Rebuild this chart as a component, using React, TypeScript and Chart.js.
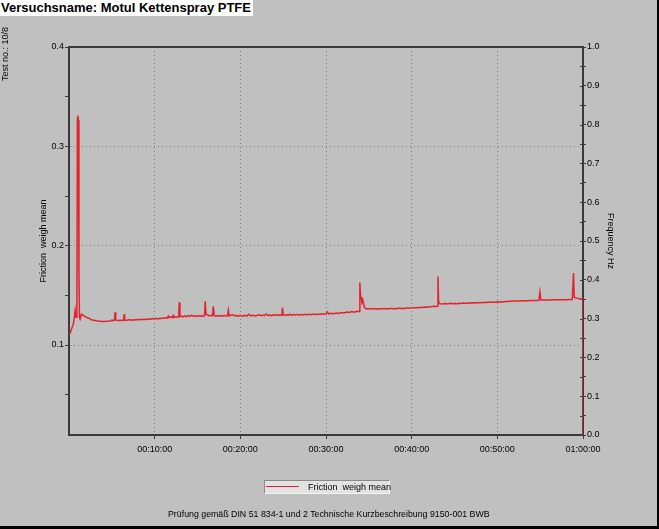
import React, { useEffect, useRef } from "react";
import { Chart, registerables } from "chart.js";

Chart.register(...registerables);

// ---- data (time in minutes, friction coefficient) ----
const timeMin = [
  0, 0.12, 0.3, 0.5, 0.62, 0.72, 0.82, 0.92, 0.98, 1.04,
  1.1, 1.16, 1.22, 1.3, 1.45, 1.6, 1.8, 2.0, 2.3, 2.6,
  2.9, 3.2, 3.6, 4.0, 4.4, 4.8, 5.0, 5.2, 5.3, 5.38,
  5.46, 5.7, 6.0, 6.3, 6.38, 6.43, 6.5, 6.8, 7.0, 7.2,
  7.4, 7.6, 7.8, 8.0, 8.2, 8.4, 8.6, 8.8, 9.0, 9.2,
  9.4, 9.6, 9.8, 10.0, 10.2, 10.4, 10.6, 10.8, 11.0, 11.2,
  11.4, 11.5, 11.6, 11.7, 11.8, 12.0, 12.1, 12.2, 12.3, 12.5,
  12.7, 12.8, 12.87, 12.95, 13.1, 13.3, 13.5, 13.7, 13.9, 14.1,
  14.3, 14.5, 14.7, 14.9, 15.1, 15.3, 15.5, 15.7, 15.82, 15.9,
  16.0, 16.2, 16.4, 16.6, 16.75, 16.84, 16.95, 17.1, 17.3, 17.5,
  17.7, 17.9, 18.1, 18.3, 18.5, 18.6, 18.7, 18.9, 19.1, 19.3,
  19.5, 19.7, 20.0, 20.3, 20.5, 20.8, 21.0, 21.2, 21.5, 21.8,
  22.0, 22.2, 22.4, 22.6, 22.8, 23.0, 23.2, 23.4, 23.6, 23.8,
  24.0, 24.2, 24.4, 24.6, 24.85, 24.92, 25.0, 25.2, 25.4, 25.6,
  25.8, 26.0, 26.2, 26.4, 26.6, 26.8, 27.0, 27.3, 27.5, 27.8,
  28.0, 28.3, 28.5, 28.8, 29.0, 29.3, 29.5, 29.8, 30.0, 30.2,
  30.3, 30.6, 30.9, 31.2, 31.5, 31.8, 32.1, 32.4, 32.7, 33.0,
  33.3, 33.6, 33.86, 33.95, 34.02, 34.1, 34.2, 34.3, 34.45, 34.6,
  34.8, 35.0, 35.3, 35.5, 35.8, 36.0, 36.3, 36.5, 36.8, 37.0,
  37.3, 37.5, 37.8, 38.0, 38.3, 38.5, 38.8, 39.0, 39.3, 39.5,
  39.8, 40.0, 40.3, 40.5, 40.8, 41.0, 41.3, 41.5, 41.8, 42.0,
  42.3, 42.5, 42.8, 42.98, 43.07, 43.15, 43.3, 43.6, 43.9, 44.2,
  44.5, 44.8, 45.0, 45.3, 45.5, 45.8, 46.0, 46.3, 46.5, 46.8,
  47.0, 47.3, 47.5, 47.8, 48.0, 48.3, 48.5, 48.8, 49.0, 49.3,
  49.5, 49.8, 50.0, 50.5, 51.0, 51.5, 52.0, 52.5, 53.0, 53.5,
  54.0, 54.5, 54.85, 54.97, 55.08, 55.5, 56.0, 56.5, 57.0, 57.5,
  58.0, 58.4, 58.75, 58.89, 58.98, 59.1, 59.3, 59.6, 59.9, 60.0,
  60.0,
];

const friction = [
  0.110, 0.112, 0.116, 0.121, 0.127, 0.135, 0.128, 0.131, 0.328, 0.331,
  0.326, 0.174, 0.128, 0.126, 0.131, 0.130, 0.129, 0.128, 0.127, 0.1255,
  0.125, 0.1245, 0.1238, 0.1236, 0.1240, 0.1242, 0.1250, 0.1245, 0.1252, 0.1330,
  0.1250, 0.1247, 0.1250, 0.1248, 0.1250, 0.1310, 0.1252, 0.1249, 0.1256, 0.1250,
  0.1255, 0.1250, 0.1257, 0.1252, 0.1258, 0.1254, 0.1260, 0.1255, 0.1262, 0.1257,
  0.1263, 0.1259, 0.1266, 0.1262, 0.1268, 0.1263, 0.1270, 0.1266, 0.1273, 0.1269,
  0.1276, 0.1272, 0.1292, 0.1274, 0.1279, 0.1285, 0.1276, 0.1298, 0.1279, 0.1284,
  0.1280, 0.1286, 0.1430, 0.1286, 0.1292, 0.1284, 0.1293, 0.1286, 0.1295, 0.1287,
  0.1300, 0.1288, 0.1294, 0.1287, 0.1296, 0.1289, 0.1295, 0.1290, 0.1294, 0.1440,
  0.1310, 0.1302, 0.1293, 0.1299, 0.1294, 0.1390, 0.1298, 0.1290, 0.1297, 0.1289,
  0.1296, 0.1290, 0.1298, 0.1291, 0.1294, 0.1350, 0.1295, 0.1300, 0.1306, 0.1292,
  0.1298, 0.1291, 0.1297, 0.1290, 0.1298, 0.1293, 0.1310, 0.1294, 0.1299, 0.1293,
  0.1300, 0.1305, 0.1296, 0.1301, 0.1295, 0.1312, 0.1297, 0.1302, 0.1296, 0.1303,
  0.1298, 0.1306, 0.1299, 0.1303, 0.1300, 0.1377, 0.1306, 0.1300, 0.1305, 0.1299,
  0.1310, 0.1301, 0.1307, 0.1302, 0.1308, 0.1301, 0.1306, 0.1302, 0.1309, 0.1304,
  0.1310, 0.1305, 0.1312, 0.1306, 0.1311, 0.1307, 0.1314, 0.1309, 0.1314, 0.1332,
  0.1313, 0.1320, 0.1315, 0.1323, 0.1318, 0.1327, 0.1322, 0.1331, 0.1327, 0.1336,
  0.1331, 0.1340, 0.1338, 0.1630, 0.1510, 0.1480, 0.1430, 0.1450, 0.1385, 0.1368,
  0.1362, 0.1367, 0.1362, 0.1368, 0.1363, 0.1366, 0.1362, 0.1368, 0.1364, 0.1367,
  0.1363, 0.1369, 0.1365, 0.1368, 0.1366, 0.1372, 0.1367, 0.1371, 0.1368, 0.1374,
  0.1370, 0.1376, 0.1372, 0.1378, 0.1374, 0.1380, 0.1377, 0.1383, 0.1380, 0.1386,
  0.1384, 0.1390, 0.1387, 0.1391, 0.1690, 0.1430, 0.1416, 0.1413, 0.1418, 0.1413,
  0.1419, 0.1415, 0.1418, 0.1416, 0.1421, 0.1418, 0.1423, 0.1419, 0.1424, 0.1421,
  0.1426, 0.1422, 0.1427, 0.1424, 0.1429, 0.1426, 0.1430, 0.1428, 0.1433, 0.1429,
  0.1434, 0.1431, 0.1435, 0.1434, 0.1438, 0.1440, 0.1442, 0.1443, 0.1445, 0.1446,
  0.1448, 0.1449, 0.1450, 0.1535, 0.1452, 0.1453, 0.1454, 0.1455, 0.1455, 0.1456,
  0.1456, 0.1457, 0.1457, 0.1725, 0.1480, 0.1476, 0.1472, 0.1466, 0.1464, 0.1464,
  0.0,
];

const seriesLabel = "Friction  weigh mean";
const leftTicks = [0.05, 0.1, 0.15, 0.2, 0.25, 0.3, 0.35, 0.4];
const leftLabelled = [0.1, 0.2, 0.3, 0.4];
const leftGrid = [0.1, 0.2, 0.3];
const rightTicks = [0, 0.05, 0.1, 0.15, 0.2, 0.25, 0.3, 0.35, 0.4, 0.45, 0.5,
  0.55, 0.6, 0.65, 0.7, 0.75, 0.8, 0.85, 0.9, 0.95, 1.0];
const rightLabelled = [0, 0.1, 0.2, 0.3, 0.4, 0.5, 0.6, 0.7, 0.8, 0.9, 1.0];
const timeTicks = [10, 20, 30, 40, 50, 60];
const timeLabels = ["00:10:00", "00:20:00", "00:30:00", "00:40:00", "00:50:00", "01:00:00"];
const timeGrid = [10, 20, 30, 40, 50];

const FONT = '"Liberation Sans", Arial, sans-serif';
const AXIS = "#3a3a3a";
const DOT = "#7c7c7c";
const RED = "rgb(226,36,46)";

const has = (arr: number[], v: number) => arr.some((a) => Math.abs(a - v) < 1e-6);

const framePlugin = {
  id: "frame",
  beforeDatasetsDraw(chart: any) {
    const { ctx, chartArea } = chart;
    const y1 = chart.scales.y1;
    ctx.save();
    ctx.strokeStyle = AXIS;
    ctx.lineWidth = 2;
    ctx.beginPath();
    ctx.moveTo(chartArea.left - 1, chartArea.top);
    ctx.lineTo(chartArea.right + 1, chartArea.top);
    ctx.stroke();
    ctx.lineWidth = 1;
    ctx.beginPath();
    for (const v of rightTicks) {
      const py = Math.round(y1.getPixelForValue(v)) + 0.5;
      ctx.moveTo(chartArea.right - 3, py);
      ctx.lineTo(chartArea.right, py);
    }
    ctx.stroke();
    ctx.restore();
  },
};

export default function App() {
  const ref = useRef<HTMLCanvasElement>(null);

  useEffect(() => {
    const tickFont = { family: FONT, size: 9 };
    const chart = new Chart(ref.current!, {
      type: "line",
      data: {
        datasets: [
          {
            label: seriesLabel,
            data: timeMin.map((t, i) => ({ x: t, y: friction[i] })),
            borderColor: RED,
            backgroundColor: RED,
            borderWidth: 1.5,
            pointRadius: 0,
            tension: 0,
            yAxisID: "y",
            xAxisID: "x",
          },
        ],
      },
      options: {
        responsive: false,
        maintainAspectRatio: false,
        animation: false,
        events: [],
        layout: { padding: { top: 47, left: 0, right: 0, bottom: 0 } },
        plugins: { legend: { display: false }, tooltip: { enabled: false } },
        scales: {
          x: {
            type: "linear",
            min: 0,
            max: 60,
            afterBuildTicks: (s: any) => {
              s.ticks = timeTicks.map((v) => ({ value: v }));
            },
            afterFit: (s: any) => {
              s.height = 94;
            },
            ticks: {
              font: tickFont,
              color: "#000",
              padding: 5,
              maxRotation: 0,
              autoSkip: false,
              callback: (v: any) => {
                const i = timeTicks.findIndex((t) => Math.abs(t - v) < 1e-6);
                return i >= 0 ? timeLabels[i] : "";
              },
            },
            grid: {
              color: (c: any) => (c.tick && has(timeGrid, c.tick.value) ? DOT : "rgba(0,0,0,0)"),
              tickColor: AXIS,
              tickLength: 4,
              lineWidth: 1,
            },
            border: { display: true, color: AXIS, width: 2, dash: [1, 3] },
          },
          y: {
            type: "linear",
            position: "left",
            min: 0.0094,
            max: 0.4,
            afterBuildTicks: (s: any) => {
              s.ticks = leftTicks.map((v) => ({ value: v }));
            },
            afterFit: (s: any) => {
              s.width = 69;
            },
            ticks: {
              font: tickFont,
              color: "#000",
              padding: 1,
              autoSkip: false,
              callback: (v: any) => (has(leftLabelled, v) ? Number(v).toFixed(1) : ""),
            },
            grid: {
              color: (c: any) => (c.tick && has(leftGrid, c.tick.value) ? DOT : "rgba(0,0,0,0)"),
              tickColor: AXIS,
              tickLength: 4,
              lineWidth: 1,
            },
            border: { display: true, color: AXIS, width: 2, dash: [1, 3] },
            title: {
              display: true,
              text: seriesLabel,
              font: { family: FONT, size: 9 },
              color: "#000",
              padding: { top: 38, bottom: 0 },
            },
          },
          y1: {
            type: "linear",
            position: "right",
            display: true,
            min: 0,
            max: 1,
            afterBuildTicks: (s: any) => {
              s.ticks = rightTicks.map((v) => ({ value: v }));
            },
            afterFit: (s: any) => {
              s.width = 76;
            },
            ticks: {
              font: tickFont,
              color: "#000",
              padding: 1,
              autoSkip: false,
              callback: (v: any) => (has(rightLabelled, v) ? Number(v).toFixed(1) : ""),
            },
            grid: {
              drawOnChartArea: false,
              color: AXIS,
              tickColor: AXIS,
              tickLength: 3,
              lineWidth: 1,
            },
            border: { display: true, color: AXIS, width: 2 },
            title: {
              display: true,
              text: "Frequency Hz",
              font: { family: FONT, size: 9 },
              color: "#000",
              padding: { top: 43, bottom: 0 },
            },
          },
        },
      },
      plugins: [framePlugin],
    } as any);
    return () => chart.destroy();
  }, []);

  return (
    <div
      style={{
        position: "absolute",
        left: 0,
        top: 0,
        width: 659,
        height: 529,
        background: "#c0c0c0",
        overflow: "hidden",
        fontFamily: FONT,
      }}
    >
      <canvas
        ref={ref}
        width={659}
        height={529}
        style={{ position: "absolute", left: 0, top: 0, width: 659, height: 529 }}
      />
      <div
        style={{
          position: "absolute",
          left: 0,
          top: 0,
          width: 70,
          height: 11,
          fontSize: 9,
          lineHeight: "11px",
          whiteSpace: "nowrap",
          color: "#000",
          transformOrigin: "0 0",
          transform: "translate(0px, 81px) rotate(-90deg)",
        }}
      >
        Test no.: 10/8
      </div>
      <div
        style={{
          position: "absolute",
          left: 0,
          top: 0,
          width: 253,
          height: 16,
          background: "#fff",
          fontWeight: "bold",
          fontSize: 13,
          lineHeight: "16px",
          whiteSpace: "nowrap",
          color: "#000",
          paddingLeft: 1,
          boxSizing: "border-box",
        }}
      >
        Versuchsname: Motul Kettenspray PTFE
      </div>
      <div
        style={{
          position: "absolute",
          left: 264,
          top: 480,
          width: 126,
          height: 14,
          boxSizing: "border-box",
          background: "#e2e2e2",
          borderTop: "1px solid #8a8a8a",
          borderLeft: "1px solid #8a8a8a",
          borderRight: "1px solid #f4f4f4",
          borderBottom: "1px solid #f4f4f4",
        }}
      >
        <div
          style={{ position: "absolute", left: 1, top: 5, width: 33, height: 1, background: RED }}
        />
        <div
          style={{
            position: "absolute",
            left: 43,
            top: 0,
            fontSize: 9,
            lineHeight: "12px",
            whiteSpace: "pre",
            color: "#000",
          }}
        >
          {seriesLabel}
        </div>
      </div>
      <div
        style={{
          position: "absolute",
          left: 168,
          top: 508,
          fontSize: 8.8,
          lineHeight: "12px",
          whiteSpace: "nowrap",
          color: "#000",
        }}
      >
        Prüfung gemäß DIN 51 834-1 und 2 Technische Kurzbeschreibung 9150-001 BWB
      </div>
      <div style={{ position: "absolute", right: 0, top: 0, width: 2, height: 529, background: "#000" }} />
      <div style={{ position: "absolute", left: 0, bottom: 0, width: 659, height: 3, background: "#000" }} />
    </div>
  );
}
